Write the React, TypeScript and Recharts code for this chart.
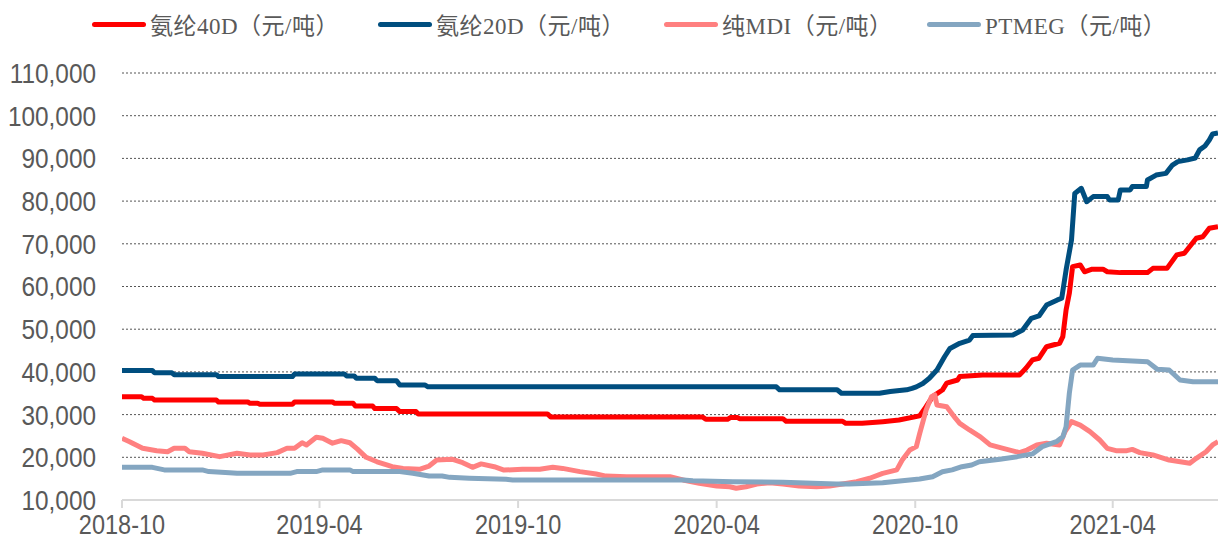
import { LineChart, Line, XAxis, YAxis, CartesianGrid } from 'recharts';

// 氨纶40D
const s40Dates = [
  '2018-10-01', '2018-10-19', '2018-10-21', '2018-10-29', '2018-10-31', '2018-12-27', '2018-12-29',
  '2019-01-25', '2019-01-27', '2019-02-03', '2019-02-05', '2019-03-07', '2019-03-09', '2019-04-13',
  '2019-04-15', '2019-05-02', '2019-05-04', '2019-05-20', '2019-05-22', '2019-06-11', '2019-06-14',
  '2019-06-29', '2019-07-01', '2019-10-28', '2019-10-31', '2020-03-19', '2020-03-22', '2020-04-11',
  '2020-04-14', '2020-04-20', '2020-04-22', '2020-06-01', '2020-06-04', '2020-07-26', '2020-07-29',
  '2020-08-13', '2020-09-01', '2020-09-16', '2020-10-05', '2020-10-11', '2020-10-17', '2020-10-26',
  '2020-10-30', '2020-11-09', '2020-11-11', '2020-12-02', '2021-01-05', '2021-01-11', '2021-01-17',
  '2021-01-23', '2021-01-30', '2021-02-11', '2021-02-14', '2021-02-17', '2021-02-20', '2021-02-23',
  '2021-03-02', '2021-03-06', '2021-03-13', '2021-03-23', '2021-03-27', '2021-04-08', '2021-05-03',
  '2021-05-08', '2021-05-21', '2021-05-30', '2021-06-06', '2021-06-17', '2021-06-23', '2021-06-29',
  '2021-07-07',
];
const s40Values = [
  34200, 34200, 33800, 33800, 33400, 33400, 32950,
  32950, 32650, 32650, 32400, 32400, 32950, 32950,
  32650, 32650, 32000, 32000, 31400, 31400, 30700,
  30700, 30150, 30150, 29450, 29450, 28900, 28900,
  29350, 29350, 29050, 29050, 28450, 28450, 27950,
  27950, 28350, 28750, 29700, 31850, 34200, 35750,
  37350, 38100, 38900, 39250, 39250, 40850, 42800,
  43200, 45900, 46700, 48250, 54500, 58400, 64650,
  65050, 63450, 64050, 64050, 63450, 63250, 63250,
  64250, 64250, 67400, 67800, 71300, 71650, 73650,
  74000,
];

// 氨纶20D
const s20Dates = [
  '2018-10-01', '2018-10-29', '2018-10-31', '2018-11-16', '2018-11-18', '2018-12-27', '2018-12-29',
  '2019-03-07', '2019-03-09', '2019-04-24', '2019-04-26', '2019-05-03', '2019-05-05', '2019-05-22',
  '2019-05-24', '2019-06-11', '2019-06-14', '2019-07-07', '2019-07-10', '2020-05-26', '2020-05-29',
  '2020-07-21', '2020-07-25', '2020-08-29', '2020-09-08', '2020-09-23', '2020-09-28', '2020-10-02',
  '2020-10-08', '2020-10-14', '2020-10-21', '2020-10-28', '2020-11-02', '2020-11-11', '2020-11-20',
  '2020-11-23', '2020-12-30', '2021-01-08', '2021-01-16', '2021-01-23', '2021-01-30', '2021-02-09',
  '2021-02-13', '2021-02-17', '2021-02-22', '2021-02-25', '2021-03-03', '2021-03-08', '2021-03-14',
  '2021-03-27', '2021-03-29', '2021-04-06', '2021-04-08', '2021-04-17', '2021-04-19', '2021-05-02',
  '2021-05-03', '2021-05-11', '2021-05-20', '2021-05-26', '2021-05-31', '2021-06-09', '2021-06-16',
  '2021-06-20', '2021-06-25', '2021-06-29', '2021-07-02', '2021-07-07',
];
const s20Values = [
  40300, 40300, 39800, 39800, 39350, 39350, 38900,
  38900, 39500, 39500, 39050, 39050, 38500, 38500,
  37950, 37950, 36950, 36950, 36500, 36500, 35800,
  35800, 35000, 35000, 35400, 35800, 36150, 36500,
  37300, 38500, 40450, 43550, 45500, 46700, 47450,
  48500, 48650, 49800, 52550, 53100, 55650, 56850,
  57250, 63850, 70900, 81800, 83000, 79850, 81050,
  81050, 80250, 80250, 82600, 82600, 83400, 83400,
  84950, 86100, 86500, 88450, 89250, 89650, 90100,
  92000, 92900, 94300, 95700, 95950,
];

// 纯MDI
const mdiDates = [
  '2018-10-01', '2018-10-08', '2018-10-20', '2018-11-02', '2018-11-12', '2018-11-18', '2018-11-28',
  '2018-12-02', '2018-12-14', '2018-12-30', '2019-01-15', '2019-01-27', '2019-02-08', '2019-02-21',
  '2019-03-02', '2019-03-09', '2019-03-16', '2019-03-20', '2019-03-29', '2019-04-04', '2019-04-13',
  '2019-04-21', '2019-04-29', '2019-05-06', '2019-05-14', '2019-05-24', '2019-06-02', '2019-06-07',
  '2019-06-17', '2019-07-02', '2019-07-11', '2019-07-18', '2019-08-01', '2019-08-11', '2019-08-20',
  '2019-08-28', '2019-09-09', '2019-09-18', '2019-10-05', '2019-10-21', '2019-11-02', '2019-11-11',
  '2019-11-27', '2019-12-12', '2019-12-21', '2020-01-09', '2020-02-18', '2020-03-01', '2020-03-16',
  '2020-04-01', '2020-04-13', '2020-04-19', '2020-04-28', '2020-05-08', '2020-05-20', '2020-06-01',
  '2020-06-16', '2020-07-02', '2020-07-14', '2020-07-26', '2020-08-08', '2020-08-20', '2020-09-01',
  '2020-09-14', '2020-09-19', '2020-09-26', '2020-10-02', '2020-10-05', '2020-10-11', '2020-10-16',
  '2020-10-19', '2020-10-21', '2020-10-30', '2020-11-07', '2020-11-11', '2020-11-20', '2020-11-30',
  '2020-12-09', '2020-12-21', '2021-01-05', '2021-01-12', '2021-01-21', '2021-01-30', '2021-02-11',
  '2021-02-16', '2021-02-22', '2021-03-02', '2021-03-11', '2021-03-20', '2021-03-27', '2021-04-04',
  '2021-04-14', '2021-04-19', '2021-04-26', '2021-05-08', '2021-05-23', '2021-06-11', '2021-06-17',
  '2021-06-26', '2021-07-02', '2021-07-07',
];
const mdiValues = [
  24450, 23650, 22100, 21550, 21300, 22100, 22100,
  21300, 20950, 20150, 20950, 20550, 20550, 21100,
  22100, 22100, 23400, 22900, 24700, 24450, 23300,
  23900, 23400, 21900, 20000, 18950, 18200, 17800,
  17400, 17200, 17950, 19350, 19550, 18750, 17650,
  18450, 17800, 17000, 17200, 17200, 17650, 17400,
  16650, 16100, 15600, 15450, 15450, 14700, 13900,
  13300, 13100, 12750, 13100, 13750, 14050, 13750,
  13300, 13100, 13300, 13750, 14300, 15100, 16250,
  17050, 19350, 21700, 22500, 25500, 31050, 34200,
  34600, 32250, 31850, 29150, 27950, 26400, 24800,
  22900, 22100, 21100, 21700, 22900, 23300, 22900,
  26000, 28350, 27550, 26000, 24050, 22100, 21550,
  21550, 21850, 21100, 20550, 19350, 18600, 19750,
  21300, 22900, 23650,
];

// PTMEG
const ptmegDates = [
  '2018-10-01', '2018-10-29', '2018-11-09', '2018-12-14', '2018-12-20', '2019-01-08', '2019-01-15',
  '2019-03-05', '2019-03-11', '2019-03-29', '2019-04-04', '2019-04-29', '2019-05-02', '2019-06-14',
  '2019-06-26', '2019-07-11', '2019-07-23', '2019-07-30', '2019-08-17', '2019-09-20', '2019-09-26',
  '2020-03-01', '2020-03-10', '2020-04-16', '2020-06-01', '2020-07-20', '2020-08-01', '2020-09-01',
  '2020-09-19', '2020-10-05', '2020-10-17', '2020-10-26', '2020-11-04', '2020-11-13', '2020-11-22',
  '2020-11-29', '2020-12-18', '2021-01-03', '2021-01-17', '2021-01-26', '2021-02-08', '2021-02-14',
  '2021-02-17', '2021-02-20', '2021-02-23', '2021-03-02', '2021-03-14', '2021-03-18', '2021-04-01',
  '2021-05-03', '2021-05-12', '2021-05-23', '2021-06-02', '2021-06-14', '2021-07-07',
];
const ptmegValues = [
  17650, 17650, 17050, 17050, 16650, 16400, 16250,
  16250, 16650, 16650, 17050, 17050, 16650, 16650,
  16250, 15600, 15600, 15300, 15100, 14850, 14700,
  14700, 14500, 14300, 14150, 13750, 13750, 14050,
  14500, 14900, 15450, 16600, 17050, 17800, 18200,
  18950, 19550, 20150, 20800, 22500, 23650, 24800,
  27150, 35000, 40450, 41600, 41600, 43200, 42800,
  42400, 40600, 40450, 38100, 37700, 37700,
];

const xTickLabels = ['2018-10', '2019-04', '2019-10', '2020-04', '2020-10', '2021-04'];
const yTicks = [10000, 20000, 30000, 40000, 50000, 60000, 70000, 80000, 90000, 100000, 110000];
const xStart = '2018-10-01';
const xEnd = '2021-07-07';

const toTime = (d: string) => Date.parse(d);
const build = (dates: string[], values: number[]) =>
  dates.map((d, i) => ({ t: toTime(d), v: values[i] }));

const series = [
  { name: '氨纶40D（元/吨）', color: '#ff0000', data: build(s40Dates, s40Values), legendX: 92 },
  { name: '氨纶20D（元/吨）', color: '#004e7f', data: build(s20Dates, s20Values), legendX: 378 },
  { name: '纯MDI（元/吨）', color: '#ff8080', data: build(mdiDates, mdiValues), legendX: 664 },
  { name: 'PTMEG（元/吨）', color: '#84a6c1', data: build(ptmegDates, ptmegValues), legendX: 927 },
];

const axisFont = "'Liberation Sans', Arial, sans-serif";
const legendFont = "'Liberation Serif', 'Noto Sans CJK SC', serif";

const fmtMonth = (t: number) => {
  const d = new Date(t);
  return `${d.getUTCFullYear()}-${String(d.getUTCMonth() + 1).padStart(2, '0')}`;
};

// narrow-looking tick text: regular sans squeezed horizontally
const XTick = ({ x, y, payload }: any) => (
  <text
    transform={`translate(${x},${y}) scale(0.84,1)`}
    textAnchor="middle"
    dy="0.71em"
    fill="#595959"
    fontSize={28}
    fontFamily={axisFont}
  >
    {fmtMonth(payload.value)}
  </text>
);

const YTick = ({ x, y, payload }: any) => (
  <text
    transform={`translate(${x},${y}) scale(0.87,1)`}
    textAnchor="end"
    dy="0.355em"
    fill="#595959"
    fontSize={28}
    fontFamily={axisFont}
  >
    {Number(payload.value).toLocaleString('en-US')}
  </text>
);

export default function App() {
  return (
    <div style={{ position: 'absolute', left: 0, top: 0, width: 1221, height: 542, background: '#fff' }}>
      {series.map((s) => (
        <div
          key={s.name}
          style={{
            position: 'absolute',
            left: s.legendX,
            top: 9,
            height: 30,
            display: 'flex',
            alignItems: 'center',
            fontFamily: legendFont,
            fontSize: 23,
            letterSpacing: 0.5,
            color: '#595959',
            whiteSpace: 'nowrap',
          }}
        >
          <span
            style={{
              display: 'inline-block',
              width: 54,
              height: 5,
              borderRadius: 3,
              background: s.color,
              marginRight: 4,
            }}
          />
          {s.name}
        </div>
      ))}
      <LineChart width={1221} height={542} margin={{ top: 73, right: 3, bottom: 2, left: 0 }}>
        <CartesianGrid vertical={false} stroke="#555" strokeDasharray="2 2" />
        <XAxis
          dataKey="t"
          type="number"
          domain={[toTime(xStart), toTime(xEnd)]}
          ticks={xTickLabels.map((m) => toTime(m + '-01'))}
          height={40}
          stroke="#d9d9d9"
          strokeWidth={2}
          tickSize={8}
          tickMargin={6}
          tick={<XTick />}
          allowDataOverflow
        />
        <YAxis
          type="number"
          domain={[10000, 110000]}
          ticks={yTicks}
          width={122}
          axisLine={false}
          tickLine={false}
          tickSize={0}
          tickMargin={26}
          tick={<YTick />}
          interval={0}
        />
        {series.map((s) => (
          <Line
            key={s.name}
            data={s.data}
            dataKey="v"
            type="linear"
            stroke={s.color}
            strokeWidth={5}
            dot={false}
            activeDot={false}
            strokeLinejoin="round"
            isAnimationActive={false}
          />
        ))}
      </LineChart>
    </div>
  );
}
